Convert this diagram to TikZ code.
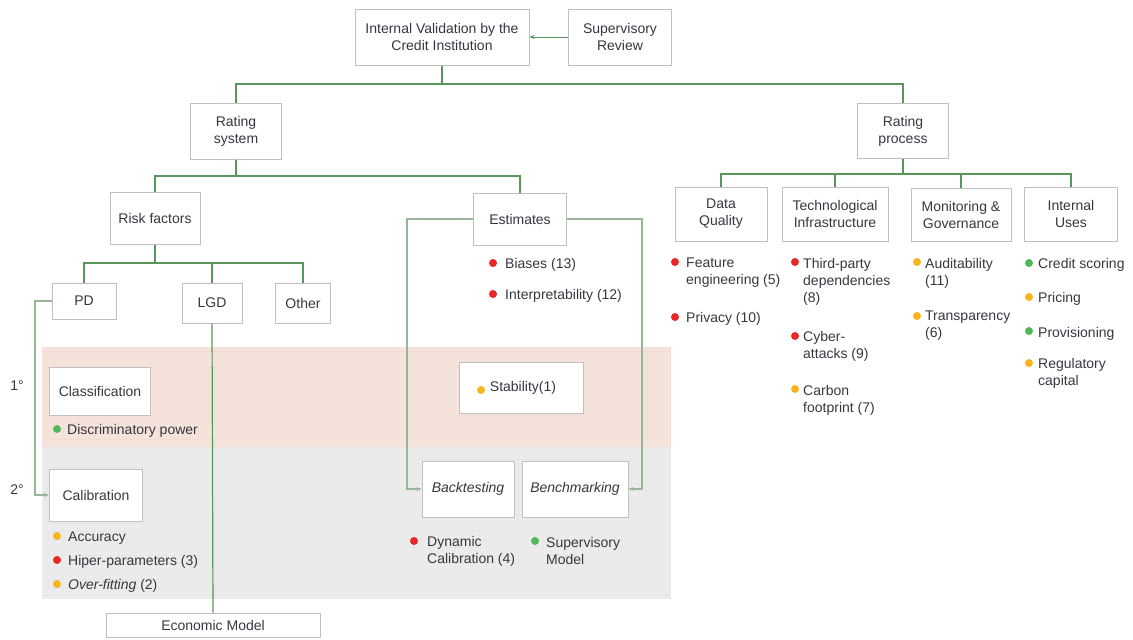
\documentclass[tikz,border=0pt]{standalone}
\usepackage{fontspec}
\setmainfont{Liberation Sans}
\usetikzlibrary{arrows.meta}

\definecolor{linkgreen}{RGB}{88,150,90}
\definecolor{sidegreen}{RGB}{150,182,150}
\definecolor{boxgray}{RGB}{192,192,192}
\definecolor{txt}{RGB}{55,55,65}
\definecolor{bred}{RGB}{232,40,40}
\definecolor{borange}{RGB}{250,180,30}
\definecolor{bgreen}{RGB}{80,185,90}
\definecolor{bandpink}{RGB}{245,228,220}
\definecolor{pinkline}{RGB}{241,221,212}
\definecolor{bandgray}{RGB}{236,236,236}
\definecolor{grayline}{RGB}{230,230,230}

\tikzset{
  box/.style={draw=boxgray, line width=1pt, fill=white, align=center, inner sep=1pt},
  link/.style={linkgreen, line width=1.2pt},
  side/.style={sidegreen, line width=1.1pt},
  item/.style={anchor=base west, inner sep=0pt, align=left},
  tip/.style={-{Stealth[length=5pt,width=4pt]}}
}

\begin{document}
\begin{tikzpicture}[x=1pt, y=-1pt, font=\fontsize{14}{17}\selectfont,
    every node/.append style={text=txt}]
        \useasboundingbox (0,0) rectangle (1133,640);

        % Draw the two bands
        \fill[bandpink] (42,347) rectangle (670,447);
        \foreach \gx in {46,54,...,670} \draw[pinkline] (\gx,347) -- (\gx,447);
        \foreach \gy in {351,359,...,447} \draw[pinkline] (42,\gy) -- (670,\gy);
        \fill[bandgray] (42,447) rectangle (670,599);
        \foreach \gx in {46,54,...,670} \draw[grayline] (\gx,447) -- (\gx,599);
        \foreach \gy in {451,459,...,599} \draw[grayline] (42,\gy) -- (670,\gy);

        % Bar heights and side rails
        \coordinate (topbar) at (442,84);
        \coordinate (sysbar) at (236,176);
        \coordinate (procbar) at (903,174);
        \coordinate (riskbar) at (155,263);
        \coordinate (calrail) at (35,0);
        \coordinate (leftrail) at (407,0);
        \coordinate (rightrail) at (642,0);

        % Draw boxes
        \node[box, minimum width=174pt, minimum height=56pt] (iv) at (442,37) {Internal Validation by the\\Credit Institution};
        \node[box, minimum width=103pt, minimum height=56pt] (sr) at (620,37) {Supervisory\\Review};
        \node[box, minimum width=91pt, minimum height=56pt] (rsys) at (236,131) {Rating\\system};
        \node[box, minimum width=91pt, minimum height=55pt] (rproc) at (903,131) {Rating\\process};
        \node[box, minimum width=90pt, minimum height=52pt] (risk) at (155,218) {Risk factors};
        \node[box, minimum width=93pt, minimum height=52pt] (est) at (520,219) {Estimates};
        \node[box, minimum width=64pt, minimum height=36pt] (pd) at (84,301) {PD};
        \node[box, minimum width=60pt, minimum height=40pt] (lgd) at (212,303) {LGD};
        \node[box, minimum width=55pt, minimum height=40pt] (other) at (303,303) {Other};
        \node[box, minimum width=101pt, minimum height=48pt] (classif) at (100,391) {Classification};
        \node[box, minimum width=93pt, minimum height=52pt] (calib) at (96,495) {Calibration};
        \node[box, minimum width=214pt, minimum height=24pt] (econ) at (213,625) {Economic Model};
        \node[box, minimum width=92pt, minimum height=56pt] (backt) at (468,489) {\textit{Backtesting}};
        \node[box, minimum width=106pt, minimum height=56pt] (bench) at (575,489) {\textit{Benchmarking}};
        \node[box, minimum width=124pt, minimum height=51pt] (stab) at (521,388) {\hspace*{4pt}Stability(1)};
        \node[box, minimum width=92pt, minimum height=54pt] (dq) at (721,214) {Data\\Quality};
        \node[box, minimum width=106pt, minimum height=54pt] (tech) at (835,214) {Technological\\Infrastructure};
        \node[box, minimum width=100pt, minimum height=53pt] (mon) at (961,215) {Monitoring \&\\Governance};
        \node[box, minimum width=93pt, minimum height=54pt] (uses) at (1071,214) {Internal\\Uses};

        % Draw connectors
        \draw[linkgreen, line width=0.8pt, tip] (sr.west) -- (iv.east);
        \draw[link] (iv.south) -- (iv.south |- topbar) -| (rsys.north);
        \draw[link] (iv.south |- topbar) -| (rproc.north);
        \draw[link] (rsys.south) -- (rsys.south |- sysbar) -| (risk.north);
        \draw[link] (rsys.south |- sysbar) -| (est.north);
        \draw[link] (rproc.south) -- (rproc.south |- procbar) -| (dq.north);
        \draw[link] (rproc.south |- procbar) -| (tech.north);
        \draw[link] (rproc.south |- procbar) -| (mon.north);
        \draw[link] (rproc.south |- procbar) -| (uses.north);
        \draw[link] (risk.south) -- (risk.south |- riskbar) -| (pd.north);
        \draw[link] (risk.south |- riskbar) -| (lgd.north);
        \draw[link] (risk.south |- riskbar) -| (other.north);
        \draw[link] (lgd.south) -- (econ.north);
        \draw[side, tip] (pd.west) -| (calrail |- calib.west) -- (calib.west);
        \draw[side, tip] (est.west) -| (leftrail |- backt.west) -- (backt.west);
        \draw[side, tip] (est.east) -| (rightrail |- bench.east) -- (bench.east);

        % Level labels
        \node (first) at (17,386) {1°};
        \node (second) at (17,490) {2°};

        % Draw bullet items
        \fill[borange] (481,390) circle (4pt);
        \fill[bred] (493,263) circle (4pt);
        \node[item] (biases) at (505,268) {Biases (13)};
        \fill[bred] (493,294) circle (4pt);
        \node[item] (interp) at (505,299) {Interpretability (12)};
        \fill[bgreen] (57,429) circle (4pt);
        \node[item] (discr) at (67,434) {Discriminatory power};
        \fill[borange] (57,536) circle (4pt);
        \node[item] (accur) at (68,541) {Accuracy};
        \fill[bred] (57,560) circle (4pt);
        \node[item] (hiper) at (68,565) {Hiper-parameters (3)};
        \fill[borange] (57,584) circle (4pt);
        \node[item] (overfit) at (68,589) {\textit{Over-fitting} (2)};
        \fill[bred] (414,541) circle (4pt);
        \node[item] (dyncal) at (427,563) {Dynamic\\Calibration (4)};
        \fill[bgreen] (535,541) circle (4pt);
        \node[item] (supmod) at (546,564) {Supervisory\\Model};

        \fill[bred] (675,262) circle (4pt);
        \node[item] (feat) at (686,284) {Feature\\engineering (5)};
        \fill[bred] (675,317) circle (4pt);
        \node[item] (priv) at (686,322) {Privacy (10)};
        \fill[bred] (795,262) circle (4pt);
        \node[item] (third) at (803,302) {Third-party\\dependencies\\(8)};
        \fill[bred] (795,336) circle (4pt);
        \node[item] (cyber) at (803,358) {Cyber-\\attacks (9)};
        \fill[borange] (795,389) circle (4pt);
        \node[item] (carbon) at (803,412) {Carbon\\footprint (7)};
        \fill[borange] (917,262) circle (4pt);
        \node[item] (audit) at (925,285) {Auditability\\(11)};
        \fill[borange] (917,316) circle (4pt);
        \node[item] (transp) at (925,337) {Transparency\\(6)};
        \fill[bgreen] (1029,263) circle (4pt);
        \node[item] (credit) at (1038,268) {Credit scoring};
        \fill[borange] (1029,297) circle (4pt);
        \node[item] (pricing) at (1038,302) {Pricing};
        \fill[bgreen] (1029,331) circle (4pt);
        \node[item] (provis) at (1038,337) {Provisioning};
        \fill[borange] (1029,363) circle (4pt);
        \node[item] (regcap) at (1038,385) {Regulatory\\capital};

\end{tikzpicture}
\end{document}
